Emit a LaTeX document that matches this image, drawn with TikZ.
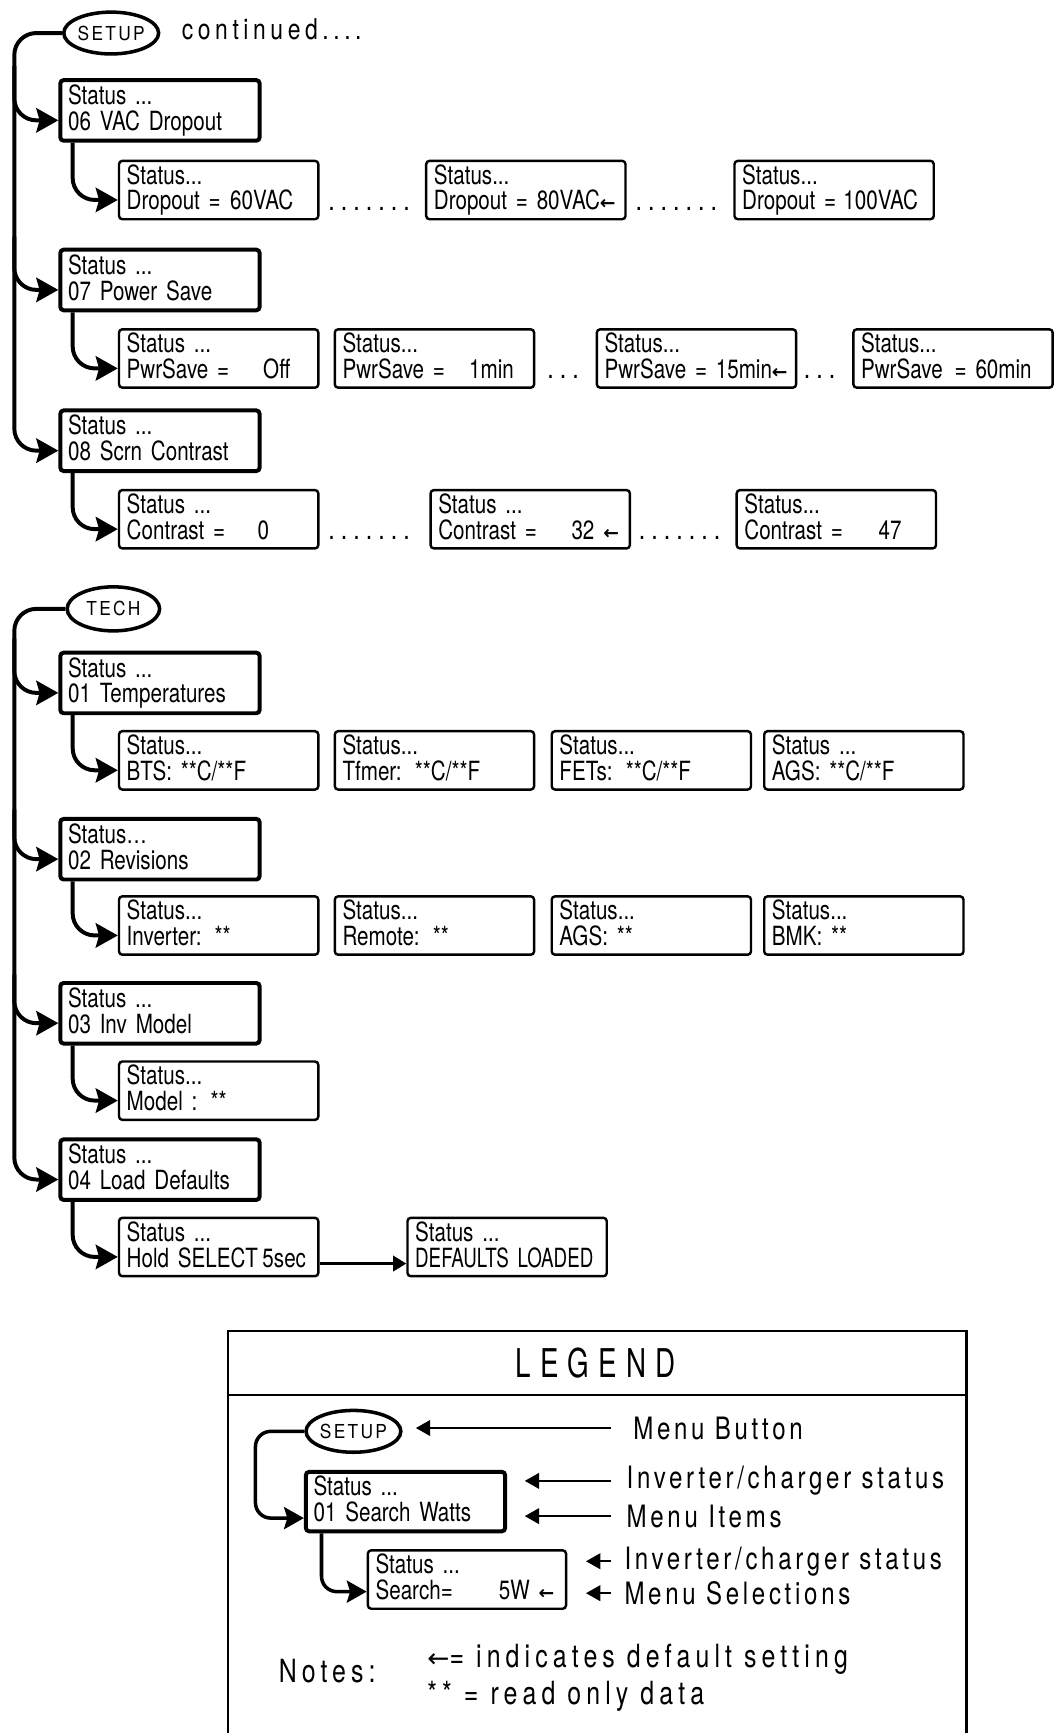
\documentclass[tikz,border=0pt]{standalone}
\usepackage{fontspec}
\setmainfont[FakeStretch=0.78]{TeX Gyre Heros}
\newfontfamily\boxf[FakeStretch=0.78,WordSpace=1.25]{TeX Gyre Heros}
\newfontfamily\condf[FakeStretch=0.71,WordSpace=0.4]{TeX Gyre Heros}
\newfontfamily\spacedf[FakeStretch=0.78,LetterSpace=12]{TeX Gyre Heros}
\newfontfamily\contf[FakeStretch=0.8,LetterSpace=16]{TeX Gyre Heros}
\newfontfamily\notef[FakeStretch=0.78,LetterSpace=16]{TeX Gyre Heros}
\newfontfamily\capsf[FakeStretch=0.9,LetterSpace=12]{TeX Gyre Heros}
\newfontfamily\titlef[FakeStretch=0.7,LetterSpace=23]{TeX Gyre Heros}
\newfontfamily\arrf{DejaVu Sans}
\newfontfamily\arrbf{DejaVu Sans Bold}
\usetikzlibrary{arrows.meta,shapes.geometric}
\newcommand\twoln[2]{\mbox{\rule{0pt}{17pt}#1}\\\mbox{#2\rule[-5pt]{0pt}{5pt}}}
\newcommand\vlab[2]{\makebox[#1][l]{#2}}
\newcommand\larw{{\arrbf\fontsize{17}{17}\selectfont ←}}
\newcommand\dd{.\hspace{5.5pt}}
\begin{document}
\begin{tikzpicture}[x=1pt,y=-1pt,
  mainbox/.style={draw, line width=3.6pt, rounded corners=3pt, anchor=north west,
    minimum width=181pt, minimum height=55pt, text width=167pt, inner xsep=7pt,
    inner ysep=0pt, align=left, font=\boxf\fontsize{24}{23.5}\selectfont},
  subbox/.style={mainbox, line width=2.2pt, minimum height=53pt},
  link/.style={line width=3.6pt, rounded corners=20pt,
    -{Stealth[length=20pt,width=22pt,inset=3pt]}},
  llink/.style={line width=3.2pt, rounded corners=14pt,
    -{Stealth[length=18pt,width=20pt,inset=3pt]}},
  larr/.style={line width=2.2pt, -{Triangle[length=13pt,width=14pt]}},
  hlarr/.style={line width=2.4pt, -{Triangle[length=12pt,width=14pt]}},
  button/.style={ellipse, draw, line width=3.2pt, inner sep=0pt,
    font=\capsf\fontsize{17.5}{18}\selectfont},
  dotn/.style={anchor=base west, inner sep=0pt, font=\boxf\fontsize{27}{28}\selectfont},
  legtext/.style={anchor=west, inner sep=0pt, font=\spacedf\fontsize{28}{30}\selectfont},
  notetext/.style={anchor=west, inner sep=0pt, font=\notef\fontsize{29}{31}\selectfont}
]
\fill[white] (0,0) rectangle (960,1574);
\useasboundingbox (0,0) rectangle (960,1574);

% ================= SETUP =================
\node[button, minimum width=82pt, minimum height=38pt] (setup) at (101,30) {SETUP};
\node[anchor=west, inner sep=0pt, font=\contf\fontsize{26}{28}\selectfont] (cont) at (165,27) {continued....};

\node[mainbox] (b06) at (53,71) {\twoln{Status ...}{06 VAC Dropout}};
\node[mainbox] (b07) at (53,225) {\twoln{Status ...}{07 Power Save}};
\node[mainbox] (b08) at (53,371) {\twoln{Status ...}{08 Scrn Contrast}};

\node[subbox] (c11) at (107,145) {\twoln{Status...}{\vlab{94pt}{Dropout =}60VAC}};
\node[subbox] (c12) at (386,145) {\twoln{Status...}{Dropout = 80VAC\larw}};
\node[subbox] (c13) at (666,145) {\twoln{Status...}{\vlab{92pt}{Dropout =}100VAC}};
\node[dotn] (d1a) at (298,191) {\dd\dd\dd\dd\dd\dd.};
\node[dotn] (d1b) at (577,191) {\dd\dd\dd\dd\dd\dd.};

\node[subbox] (c21) at (107,298) {\twoln{Status ...}{\vlab{124pt}{PwrSave =}Off}};
\node[subbox] (c22) at (303,298) {\twoln{Status...}{\vlab{115pt}{PwrSave =}1min}};
\node[subbox] (c23) at (541,298) {\twoln{Status...}{PwrSave = 15min\larw}};
\node[subbox] (c24) at (774,298) {\twoln{Status...}{\vlab{85pt}{PwrSave}= 60min}};
\node[dotn] (d2a) at (497,344) {\dd\dd.};
\node[dotn] (d2b) at (730,344) {\dd\dd.};

\node[subbox] (c31) at (107,444) {\twoln{Status ...}{\vlab{119pt}{Contrast =}0}};
\node[subbox] (c32) at (390,444) {\twoln{Status ...}{\vlab{121pt}{Contrast =}32 \larw}};
\node[subbox] (c33) at (668,444) {\twoln{Status...}{\vlab{122pt}{Contrast =}47}};
\node[dotn] (d3a) at (298,490) {\dd\dd\dd\dd\dd\dd.};
\node[dotn] (d3b) at (580,490) {\dd\dd\dd\dd\dd\dd.};

\coordinate (s0) at (13,30);
\coordinate (s1) at (13,60);
\coordinate (s2) at (13,215);
\draw[link] (setup.west) -- (s0) |- ([yshift=-9pt]b08.west);
\draw[link] (s1) |- ([yshift=-9pt]b06.west);
\draw[link] (s2) |- ([yshift=-9pt]b07.west);
\draw[link] ([xshift=13pt]b06.south west) |- ([yshift=-9pt]c11.west);
\draw[link] ([xshift=13pt]b07.south west) |- ([yshift=-9pt]c21.west);
\draw[link] ([xshift=13pt]b08.south west) |- ([yshift=-9pt]c31.west);

% ================= TECH =================
\node[button, minimum width=84pt, minimum height=40pt] (tech) at (103,553) {TECH};

\node[mainbox] (t01) at (53,591) {\twoln{Status ...}{01 Temperatures}};
\node[mainbox] (t02) at (53,742) {\twoln{Status…}{02 Revisions}};
\node[mainbox] (t03) at (53,891) {\twoln{Status ...}{03 Inv Model}};
\node[mainbox] (t04) at (53,1033) {\twoln{Status ...}{04 Load Defaults}};

\node[subbox] (e11) at (107,663) {\twoln{Status...}{BTS: **C/**F}};
\node[subbox] (e12) at (303,663) {\twoln{Status...}{Tfmer: **C/**F}};
\node[subbox] (e13) at (500,663) {\twoln{Status...}{FETs: **C/**F}};
\node[subbox] (e14) at (693,663) {\twoln{Status ...}{AGS: **C/**F}};

\node[subbox] (e21) at (107,813) {\twoln{Status...}{Inverter: **}};
\node[subbox] (e22) at (303,813) {\twoln{Status...}{Remote: **}};
\node[subbox] (e23) at (500,813) {\twoln{Status...}{AGS: **}};
\node[subbox] (e24) at (693,813) {\twoln{Status...}{BMK: **}};

\node[subbox] (e31) at (107,963) {\twoln{Status...}{Model : **}};

\node[subbox] (e41) at (107,1105) {\twoln{Status ...}{Hold SELECT\,5sec}};
\node[subbox] (e42) at (369,1105) {\twoln{Status ...}{{\condf DEFAULTS LOADED}}};

\coordinate (k0) at (13,553);
\coordinate (k1) at (13,580);
\coordinate (k2) at (13,735);
\coordinate (k3) at (13,885);
\draw[link] (tech.west) -- (k0) |- ([yshift=-9pt]t04.west);
\draw[link] (k1) |- ([yshift=-9pt]t01.west);
\draw[link] (k2) |- ([yshift=-9pt]t02.west);
\draw[link] (k3) |- ([yshift=-9pt]t03.west);
\draw[link] ([xshift=13pt]t01.south west) |- ([yshift=-9pt]e11.west);
\draw[link] ([xshift=13pt]t02.south west) |- ([yshift=-9pt]e21.west);
\draw[link] ([xshift=13pt]t03.south west) |- ([yshift=-9pt]e31.west);
\draw[link] ([xshift=13pt]t04.south west) |- ([yshift=-9pt]e41.west);
\draw[hlarr] ([yshift=-15pt]e41.east) -- ([yshift=-15pt]e42.west);

% ================= LEGEND =================
\draw[line width=2.4pt] (207,1590) -- (207,1209) -- (878,1209) -- (878,1590);
\draw[line width=2.4pt] (207,1267) -- (878,1267);
\node[inner sep=0pt, font=\titlef\fontsize{36}{38}\selectfont] (leg) at (541,1238) {LEGEND};

\node[button, minimum width=80pt, minimum height=38pt] (lsetup) at (321,1300) {SETUP};
\node[mainbox, minimum height=54pt] (lbox) at (276,1335) {\twoln{Status ...}{01 Search Watts}};
\node[subbox, minimum width=180pt, text width=166pt] (lsub) at (333,1407) {\twoln{Status ...}{\vlab{112pt}{Search=}5W \larw}};
\coordinate (l0) at (232,1300);
\draw[llink] (lsetup.west) -- (l0) |- ([yshift=-15pt]lbox.west);
\draw[llink] ([xshift=16pt]lbox.south west) |- ([yshift=-11pt]lsub.west);

\node[legtext] (mb) at (575,1297) {Menu Button};
\node[legtext] (ic1) at (569,1345) {Inverter/charger status};
\node[legtext] (mi) at (569,1377) {Menu Items};
\node[legtext] (ic2) at (567,1418) {Inverter/charger status};
\node[legtext] (ms) at (567,1447) {Menu Selections};
\draw[larr, shorten <=20pt, shorten >=12pt] (mb.west) -- (mb.west -| lsetup.east);
\draw[larr, shorten <=14pt, shorten >=16pt] (ic1.west) -- (ic1.west -| lbox.east);
\draw[larr, shorten <=14pt, shorten >=16pt] (mi.west) -- (mi.west -| lbox.east);
\draw[larr, shorten <=12pt, shorten >=17pt] (ic2.west) -- (ic2.west -| lsub.east);
\draw[larr, shorten <=12pt, shorten >=17pt] (ms.west) -- (ms.west -| lsub.east);

\node[notetext] (notes) at (253,1518) {Notes:};
\node[notetext] (n1) at (388,1507) {{\arrf\fontsize{24}{26}\selectfont ←}= indicates default setting};
\node[notetext] (n2) at (388,1541) {** = read only data};
\end{tikzpicture}
\end{document}
